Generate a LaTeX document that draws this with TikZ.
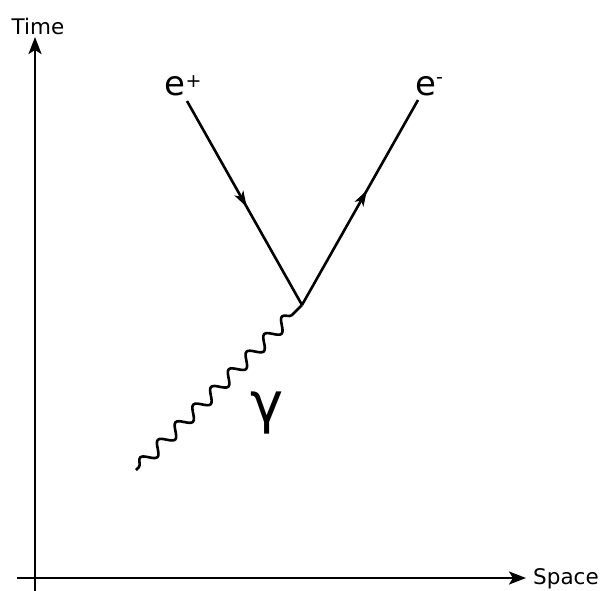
\documentclass[tikz,border=0pt]{standalone}
\usepackage{fontspec}
\setmainfont{DejaVu Sans}
\usetikzlibrary{arrows.meta,decorations.pathmorphing,decorations.markings}
\tikzset{
  axis/.style={line width=2.6pt,-{Stealth[length=17pt,width=13pt,inset=4pt]}},
  fermion/.style={line width=2.6pt,postaction={decorate},
    decoration={markings,mark=at position #1 with {\arrow{Stealth[length=16pt,width=10pt,inset=4pt]}}}},
  photon/.style={line width=2.6pt,decorate,
    decoration={snake,segment length=25pt,amplitude=6pt,pre length=4pt,post length=2pt}},
  axlabel/.style={font=\fontsize{21.5}{21.5}\selectfont,inner sep=0pt},
  plabel/.style={font=\fontsize{34}{34}\selectfont,inner sep=0pt},
}
\begin{document}
\begin{tikzpicture}[x=1pt,y=-1pt]
\useasboundingbox (0,0) rectangle (603,590);
% axes
\coordinate (yb) at (35,591);
\coordinate (yt) at (35,37);
\coordinate (xl) at (17,578);
\coordinate (xr) at (526,578);
\draw[axis] (yb) -- (yt);
\draw[axis] (xl) -- (xr);
\node[axlabel,anchor=south] (time) at (38,35) {Time};
\node[axlabel,anchor=west] (space) at (533,579) {Space};
% vertex and lines
\coordinate (v) at (302,305);
\coordinate (ep) at (187,101);
\coordinate (em) at (418,100);
\coordinate (g) at (136,470);
\draw[fermion=0.52] (ep) -- (v);
\draw[fermion=0.56] (v) -- (em);
\draw[photon] (g) -- (v);
\node[plabel] (epl) at (183,86) {e\raisebox{0.42ex}{\fontsize{19}{19}\selectfont +}};
\node[plabel] (eml) at (429,86) {e\raisebox{0.62ex}{\fontsize{19}{19}\selectfont -}};
\node[inner sep=0pt,font=\fontsize{56}{56}\selectfont] (gam) at (267,413) {γ};
\end{tikzpicture}
\end{document}
